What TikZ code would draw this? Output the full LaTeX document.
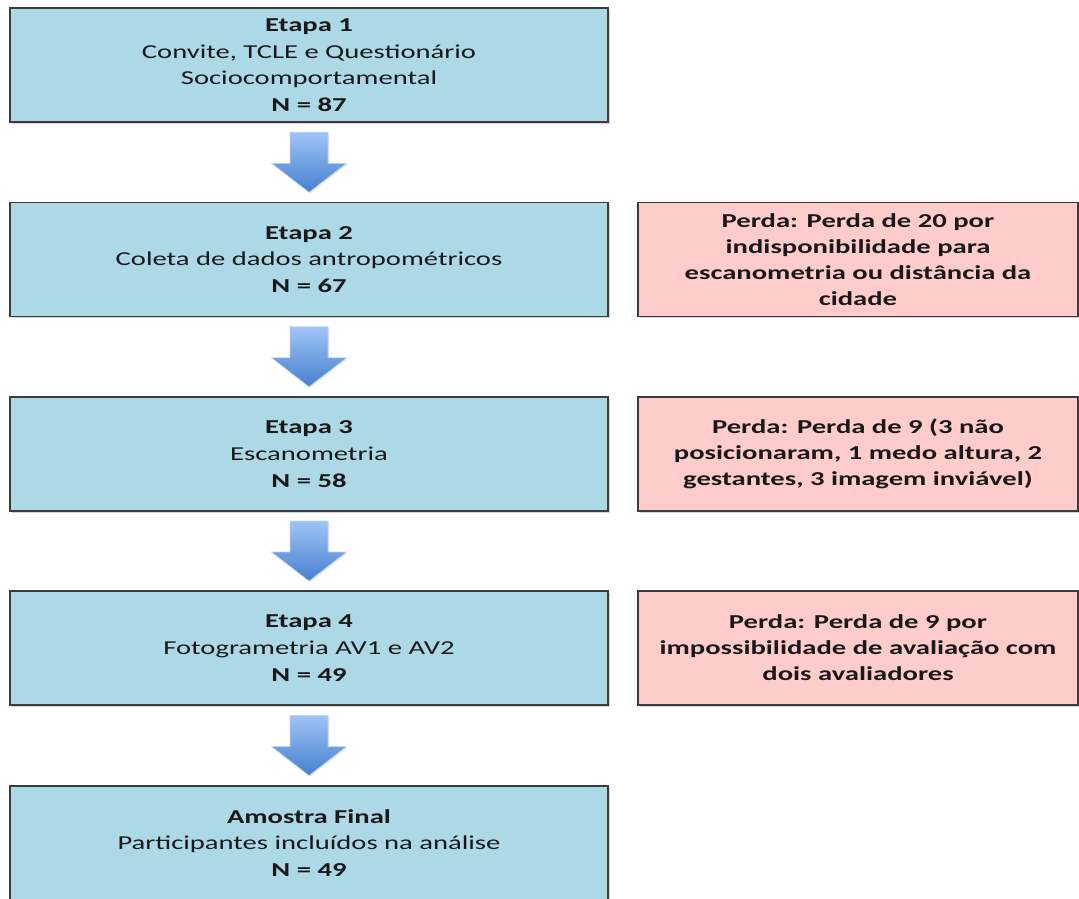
\documentclass[tikz,border=0pt]{standalone}
\usepackage{fontspec}
\setmainfont{Carlito}[FakeStretch=1.45]
\usetikzlibrary{shadows,calc}
\definecolor{caixaazul}{RGB}{173,216,230}
\definecolor{caixarosa}{RGB}{255,204,204}
\definecolor{bordacinza}{RGB}{60,60,60}
\definecolor{setaclara}{RGB}{160,196,245}
\definecolor{setaescura}{RGB}{70,128,208}

\begin{document}
\begin{tikzpicture}[x=0.75pt,y=-0.75pt]
      \tikzset{etapa box/.style={draw=bordacinza,
          line width=1.2pt,
          fill=caixaazul,
          minimum width=448.5pt,
          minimum height=85.5pt,
          inner sep=0pt,
          align=center,
          text=black!90,
          font=\fontsize{14.8}{20}\selectfont,
          drop shadow={opacity=0.35, shadow xshift=1.2pt, shadow yshift=-1.2pt}},
        perda box/.style={etapa box,
          fill=caixarosa,
          minimum width=330pt,
          font=\fontsize{14.8}{19.5}\selectfont\bfseries},
        seta/.style={draw=setaclara!70!white,
          line width=0.4pt,
          top color=setaclara,
          bottom color=setaescura,
          drop shadow={opacity=0.2, shadow xshift=0.8pt, shadow yshift=-0.8pt}}
      }
      \useasboundingbox (0,0) rectangle (1079,899);
      \clip (0,0) rectangle (1079,899);
      % etapas
      \node [etapa box] (etapa1) at (309,65) {\textbf{Etapa 1}\\Convite, TCLE e Questionário\\Sociocomportamental\\\textbf{N = 87}};
      \node [etapa box] (etapa2) at (309,259.5) {\textbf{Etapa 2}\\Coleta de dados antropométricos\\\textbf{N = 67}};
      \node [etapa box] (etapa3) at (309,454) {\textbf{Etapa 3}\\Escanometria\\\textbf{N = 58}};
      \node [etapa box] (etapa4) at (309,648) {\textbf{Etapa 4}\\Fotogrametria AV1 e AV2\\\textbf{N = 49}};
      \node [etapa box] (final) at (309,843) {\textbf{Amostra Final}\\Participantes incluídos na análise\\\textbf{N = 49}};
      % perdas
      \node [perda box] (perda2) at (858,259.5) {Perda: Perda de 20 por\\indisponibilidade para\\escanometria ou distância da\\cidade};
      \node [perda box] (perda3) at (858,454) {Perda: Perda de 9 (3 não\\posicionaram, 1 medo altura, 2\\gestantes, 3 imagem inviável)};
      \node [perda box] (perda4) at (858,648) {Perda: Perda de 9 por\\impossibilidade de avaliação com\\dois avaliadores};
      % setas
      \foreach \a/\b in {etapa1/etapa2, etapa2/etapa3, etapa3/etapa4, etapa4/final}{
        \coordinate (seta-\a) at ($(\a.south)!0.5!(\b.north)$);
        \begin{scope}[shift={(seta-\a)}]
          \path [seta] (-19,-30) -- (19,-30) -- (19,1) -- (37.5,1) -- (0,30) -- (-37.5,1) -- (-19,1) -- cycle;
        \end{scope}
      }
    \end{tikzpicture}
\end{document}
